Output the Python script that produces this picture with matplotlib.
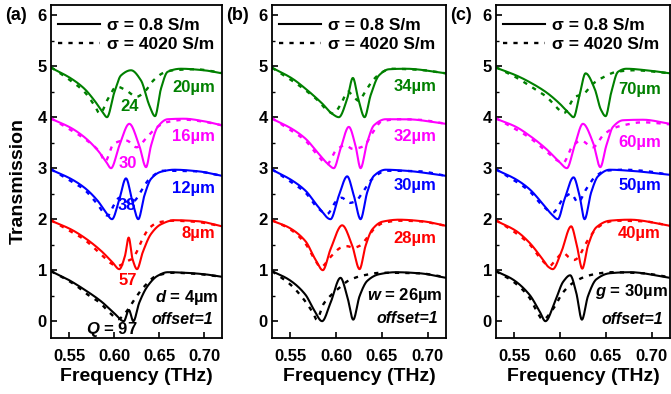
import numpy as np
import matplotlib
matplotlib.use("Agg")
import matplotlib.pyplot as plt
from matplotlib.lines import Line2D
from matplotlib.ticker import MultipleLocator

plt.rcParams['font.family'] = ['Liberation Sans', 'DejaVu Sans']
plt.rcParams['font.weight'] = 'bold'
plt.rcParams['axes.labelweight'] = 'bold'
plt.rcParams['mathtext.fontset'] = 'custom'
plt.rcParams['mathtext.it'] = 'Liberation Sans:bold:italic'
plt.rcParams['mathtext.rm'] = 'Liberation Sans:bold'

# colours, bottom curve first (offset = 1 between curves)
colors = ['black', '#ff0000', '#0000ff', '#ff00ff', '#008000']

# ---------------- panel (a): d = 4..20 um ----------------
a_labels = ['$d$ = 4\u00b5m', '8\u00b5m', '12\u00b5m', '16\u00b5m', '20\u00b5m']
a_q = ['97', '57', '38', '30', '24']

a4_sf = [.53, .5485, .567, .5856, .600, .611, .6165, .6215, .628, .6374, .6485, .6596, .678, .7004, .72]
a4_st = [.98, .82, .62, .39, .16, .0, .22, .0, .36, .69, .89, .96, .95, .92, .87]
a4_df = [.53, .545, .5585, .57, .5844, .595, .6048, .612, .6252, .6326, .6474, .666, .69, .72]
a4_dt = [.98, .84, .69, .53, .36, .17, .04, .15, .49, .66, .89, .95, .93, .87]

a8_sf = [.53, .5522, .567, .5856, .5985, .6059, .6122, .6163, .6207, .6256, .6319, .6411, .6522, .667, .693, .72]
a8_st = [.97, .80, .64, .38, .15, .02, .28, .64, .21, .02, .35, .71, .90, .98, .96, .86]
a8_df = [.53, .55, .567, .585, .597, .603, .61, .615, .62, .625, .63, .635, .64, .65, .665, .69, .72]
a8_dt = [.98, .78, .60, .32, .13, .08, .12, .18, .22, .35, .55, .72, .84, .94, .97, .95, .86]

a12_sf = [.53, .5522, .567, .5819, .5911, .5978, .6059, .6133, .6207, .627, .6337, .6411, .6522, .667, .693, .72]
a12_st = [.97, .79, .62, .36, .13, .0, .39, .80, .33, .0, .46, .79, .93, .97, .94, .85]
a12_df = [.53, .55, .567, .58, .593, .60, .606, .612, .618, .624, .63, .64, .655, .69, .72]
a12_dt = [.98, .77, .58, .33, .07, .28, .42, .38, .30, .38, .55, .80, .95, .94, .85]

a16_sf = [.53, .5522, .567, .5819, .5911, .5967, .6059, .617, .6281, .6356, .6411, .6485, .6596, .678, .70, .72]
a16_st = [.97, .79, .61, .35, .13, .0, .44, .87, .44, .02, .44, .81, .96, .97, .92, .84]
a16_df = [.53, .55, .567, .5844, .59, .5993, .607, .614, .625, .6363, .6474, .658, .68, .70, .72]
a16_dt = [.98, .77, .58, .31, .13, .47, .53, .54, .41, .60, .80, .90, .95, .91, .84]

a20_sf = [.53, .5522, .567, .5781, .5874, .5922, .6004, .6078, .6189, .63, .6393, .6456, .6522, .6596, .6744, .70, .72]
a20_st = [.97, .76, .56, .33, .10, .0, .49, .82, .92, .72, .23, .02, .56, .89, .95, .92, .86]
a20_df = [.53, .55, .567, .578, .5844, .593, .603, .614, .625, .635, .6437, .655, .6656, .69, .72]
a20_dt = [.98, .74, .50, .24, .07, .35, .60, .52, .40, .52, .72, .87, .92, .94, .87]

# ---------------- panel (b): w = 26..34 um ----------------
b_labels = ['$w$ = 26\u00b5m', '28\u00b5m', '30\u00b5m', '32\u00b5m', '34\u00b5m']

b26_sf = [.53, .548, .5665, .5756, .5847, .5939, .6048, .6121, .6187, .6256, .634, .6468, .665, .6906, .72]
b26_st = [.98, .82, .52, .23, .0, .36, .85, .49, .03, .49, .79, .92, .96, .94, .85]
b26_df = [.53, .55, .565, .5748, .5788, .586, .595, .604, .613, .628, .65, .69, .72]
b26_dt = [.98, .72, .42, .16, .03, .33, .52, .66, .79, .89, .95, .94, .86]

b28_sf = [.53, .548, .5665, .5774, .5855, .5939, .6066, .6176, .6256, .6322, .6395, .6504, .6687, .6942, .72]
b28_st = [.97, .84, .57, .21, .0, .41, .88, .48, .02, .48, .80, .95, .99, .96, .87]
b28_df = [.53, .55, .5665, .577, .583, .595, .605, .612, .619, .626, .634, .642, .652, .67, .69, .72]
b28_dt = [.98, .80, .52, .20, .06, .28, .44, .47, .44, .48, .64, .82, .93, .97, .96, .87]

b30_sf = [.53, .5519, .5665, .5811, .5939, .603, .6121, .6194, .6267, .634, .6413, .6541, .676, .72]
b30_st = [.97, .76, .56, .23, .0, .46, .84, .46, .0, .53, .85, .97, .95, .85]
b30_df = [.53, .55, .5665, .58, .59, .60, .606, .615, .622, .628, .64, .655, .69, .72]
b30_dt = [.98, .74, .52, .22, .10, .35, .42, .32, .36, .50, .80, .95, .94, .85]

b32_sf = [.53, .5519, .5665, .5811, .5912, .5975, .6048, .6139, .6212, .6267, .634, .6413, .6541, .676, .72]
b32_st = [.97, .77, .58, .28, .08, .0, .38, .81, .44, .0, .51, .84, .96, .96, .87]
b32_df = [.53, .55, .5665, .58, .59, .60, .61, .618, .63, .64, .65, .67, .69, .72]
b32_dt = [.98, .75, .54, .25, .08, .35, .45, .38, .43, .70, .92, .96, .95, .87]

b34_sf = [.53, .5519, .5665, .5847, .5955, .603, .6121, .6183, .6242, .6311, .6377, .6468, .6577, .676, .72]
b34_st = [.97, .76, .56, .27, .07, .0, .36, .77, .36, .0, .43, .82, .94, .95, .86]
b34_df = [.53, .55, .565, .58, .59, .597, .605, .613, .619, .625, .63, .64, .65, .66, .69, .72]
b34_dt = [.97, .74, .55, .33, .14, .07, .25, .50, .40, .32, .45, .72, .88, .95, .93, .86]

# ---------------- panel (c): g = 30..70 um ----------------
c_labels = ['$g$ = 30\u00b5m', '40\u00b5m', '50\u00b5m', '60\u00b5m', '70\u00b5m']

c30_sf = [.53, .5482, .5665, .5774, .584, .5939, .6036, .611, .6176, .6238, .6304, .6395, .6541, .676, .72]
c30_st = [.98, .82, .52, .20, .0, .36, .78, .90, .56, .03, .49, .82, .94, .96, .85]
c30_df = [.53, .55, .5665, .575, .5811, .592, .603, .614, .6285, .64, .655, .69, .72]
c30_dt = [.98, .76, .46, .18, .03, .23, .56, .75, .88, .93, .96, .94, .86]

c40_sf = [.53, .5519, .5665, .5811, .5875, .592, .6012, .6121, .6183, .6242, .6304, .6395, .6541, .676, .72]
c40_st = [.97, .77, .54, .21, .06, .02, .35, .86, .48, .03, .48, .84, .97, .99, .87]
c40_df = [.53, .55, .5665, .58, .5884, .595, .6035, .609, .615, .62, .625, .63, .64, .65, .66, .69, .72]
c40_dt = [.98, .75, .51, .20, .08, .20, .34, .26, .20, .25, .42, .58, .82, .93, .97, .96, .87]

c50_sf = [.53, .5519, .5665, .5811, .5911, .5975, .6048, .6147, .6212, .6267, .634, .6413, .6541, .676, .72]
c50_st = [.97, .78, .59, .30, .09, .0, .39, .82, .46, .0, .53, .84, .97, .95, .87]
c50_df = [.53, .55, .5665, .58, .592, .603, .612, .6194, .6285, .6377, .65, .67, .69, .72]
c50_dt = [.98, .76, .55, .28, .13, .39, .50, .33, .59, .82, .95, .97, .95, .87]

c60_sf = [.53, .5519, .5665, .5847, .5993, .6074, .6158, .6249, .6358, .6439, .6504, .6577, .6687, .6906, .72]
c60_st = [.97, .81, .64, .38, .12, .0, .44, .87, .51, .02, .44, .81, .94, .95, .87]
c60_df = [.53, .55, .5665, .585, .597, .603, .6139, .623, .6358, .6468, .6577, .6687, .69, .72]
c60_dt = [.98, .78, .60, .33, .15, .10, .44, .54, .41, .64, .78, .84, .90, .86]

c70_sf = [.53, .5519, .5665, .5847, .5993, .6085, .6147, .6212, .6278, .6377, .6445, .6497, .6559, .6632, .6723, .6942, .72]
c70_st = [.97, .82, .69, .49, .27, .10, .0, .43, .86, .56, .15, .02, .49, .89, .95, .92, .86]
c70_df = [.53, .55, .5665, .585, .5999, .604, .6162, .625, .6362, .6468, .6618, .68, .72]
c70_dt = [.98, .80, .62, .40, .13, .08, .40, .45, .66, .78, .89, .92, .86]

panels = [
    ('(a)', [(a4_sf, a4_st, a4_df, a4_dt), (a8_sf, a8_st, a8_df, a8_dt), (a12_sf, a12_st, a12_df, a12_dt),
             (a16_sf, a16_st, a16_df, a16_dt), (a20_sf, a20_st, a20_df, a20_dt)], a_labels),
    ('(b)', [(b26_sf, b26_st, b26_df, b26_dt), (b28_sf, b28_st, b28_df, b28_dt), (b30_sf, b30_st, b30_df, b30_dt),
             (b32_sf, b32_st, b32_df, b32_dt), (b34_sf, b34_st, b34_df, b34_dt)], b_labels),
    ('(c)', [(c30_sf, c30_st, c30_df, c30_dt), (c40_sf, c40_st, c40_df, c40_dt), (c50_sf, c50_st, c50_df, c50_dt),
             (c60_sf, c60_st, c60_df, c60_dt), (c70_sf, c70_st, c70_df, c70_dt)], c_labels),
]

# label placement (axes-x fraction, data-y) per panel
label_x = [[0.98, 0.96, 0.96, 0.96, 0.96], [0.983, 0.943, 0.943, 0.943, 0.943], [0.99, 0.948, 0.948, 0.948, 0.948]]
label_y = [[0.47, 1.71, 2.60, 3.62, 4.59], [0.51, 1.63, 2.66, 3.62, 4.61], [0.59, 1.71, 2.66, 3.50, 4.55]]
offset_y = [0.04, 0.06, 0.04]
offset_x = [0.95, 0.954, 0.96]
q_pos = [(.6156, 0.79), (.6144, 2.26), (.6156, 3.09), (.6178, 4.21)]


def smooth(x, y, n=400):
    # monotone cubic through the read points, only for drawing
    x = np.asarray(x, float)
    y = np.asarray(y, float)
    h = np.diff(x)
    d = np.diff(y) / h
    m = np.zeros_like(y)
    m[0], m[-1] = d[0], d[-1]
    for k in range(1, len(x) - 1):
        if d[k - 1] * d[k] > 0:
            w1 = 2 * h[k] + h[k - 1]
            w2 = h[k] + 2 * h[k - 1]
            m[k] = (w1 + w2) / (w1 / d[k - 1] + w2 / d[k])
    xs = np.linspace(x[0], x[-1], n)
    i = np.clip(np.searchsorted(x, xs) - 1, 0, len(x) - 2)
    t = (xs - x[i]) / h[i]
    h00 = 2 * t**3 - 3 * t**2 + 1
    h10 = t**3 - 2 * t**2 + t
    h01 = -2 * t**3 + 3 * t**2
    h11 = t**3 - t**2
    ys = h00 * y[i] + h10 * h[i] * m[i] + h01 * y[i + 1] + h11 * h[i] * m[i + 1]
    return xs, ys


fig = plt.figure(figsize=(6.71, 3.94), dpi=100)
lefts = [51 / 671, 272 / 671, 496 / 671]
widths = [171 / 671, 174 / 671, 174 / 671]
dotted = (0, (1.8, 2.6))

for p, (tag, curves, labels) in enumerate(panels):
    ax = fig.add_axes([lefts[p], 1 - 338 / 394, widths[p], 333 / 394])
    for k, (sf, st, df, dt) in enumerate(curves):
        xs, ys = smooth(sf, st)
        ax.plot(xs, ys + k, color=colors[k], lw=1.5, solid_capstyle='butt')
        xs, ys = smooth(df, dt)
        ax.plot(xs, ys + k, color=colors[k], lw=1.7, linestyle=dotted)
        ax.text(label_x[p][k], label_y[p][k], labels[k], color=colors[k], fontsize=12,
                fontweight='bold', ha='right', va='center', transform=ax.get_yaxis_transform())
    ax.text(offset_x[p], offset_y[p], 'offset=1', fontsize=11.5, style='italic', fontweight='bold',
            ha='right', va='center', transform=ax.get_yaxis_transform())
    if p == 0:
        for k in range(1, 5):
            ax.text(q_pos[k - 1][0], q_pos[k - 1][1], a_q[k], color=colors[k], fontsize=12,
                    fontweight='bold', ha='center', va='center')
        ax.text(.598, -0.16, '$Q$ = 97', fontsize=12, fontweight='bold', ha='center', va='center')

    ax.set_xlim(0.53, 0.72)
    ax.set_ylim(-0.33, 6.2)
    ax.set_xticks([0.55, 0.60, 0.65, 0.70])
    ax.set_xticklabels(['0.55', '0.60', '0.65', '0.70'], fontweight='bold')
    ax.set_yticks(range(7))
    ax.set_yticklabels([str(v) for v in range(7)], fontweight='bold')
    ax.yaxis.set_minor_locator(MultipleLocator(0.5))
    ax.tick_params(direction='in', length=4, width=1.2, labelsize=12)
    ax.tick_params(axis='x', pad=8)
    ax.tick_params(axis='y', pad=3)
    ax.tick_params(which='minor', direction='in', length=2.5, width=1.0)
    for s in ax.spines.values():
        s.set_linewidth(1.3)
    ax.set_xlabel('Frequency (THz)', fontsize=14, fontweight='bold', labelpad=3)
    if p == 0:
        ax.set_ylabel('Transmission', fontsize=14, fontweight='bold')
        ax.yaxis.set_label_coords(-0.14, 0.47)
    handles = [Line2D([], [], color='black', lw=1.5),
               Line2D([], [], color='black', lw=1.7, linestyle=dotted)]
    ax.legend(handles, ['\u03c3 = 0.8 S/m', '\u03c3 = 4020 S/m'], loc='upper left',
              bbox_to_anchor=(0.04, 0.96), frameon=False, borderpad=0,
              prop={'size': 12.5, 'weight': 'bold'},
              borderaxespad=0, handlelength=2.4, handletextpad=0.45, labelspacing=0.22)
    fig.text(lefts[p] - 46 / 671, 1 - 15 / 394, tag, fontsize=13, fontweight='bold', ha='left', va='center')

fig.savefig('out.png', dpi=100)
